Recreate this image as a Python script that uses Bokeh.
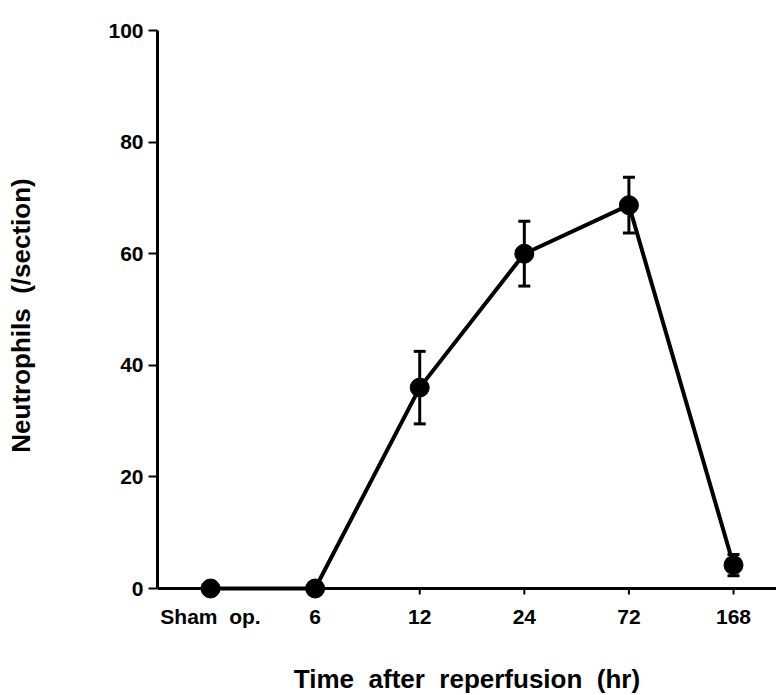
from bokeh.plotting import figure
from bokeh.models import Range1d, ColumnDataSource, FixedTicker, Span
from bokeh.embed import file_html
from bokeh.resources import INLINE

# ---- data ----
categories = ["Sham\u00a0 op.", "6", "12", "24", "72", "168"]
means = [0.0, 0.0, 36.0, 60.0, 68.7, 4.2]
sem = [0.0, 0.0, 6.5, 5.8, 5.0, 1.9]
y_ticks = [0, 20, 40, 60, 80, 100]

xpos = list(range(len(categories)))
lower = [m - e for m, e in zip(means, sem)]
upper = [m + e for m, e in zip(means, sem)]
src = ColumnDataSource(dict(x=xpos, y=means, lower=lower, upper=upper))

FONT = "Liberation Sans"
Y0, Y1 = -2.1505, 100.0
FRAME_H = 570
px_per_unit = FRAME_H / (Y1 - Y0)
tick_len = 6 / px_per_unit

p = figure(
    frame_width=619, frame_height=FRAME_H,
    min_border_left=157, min_border_right=0,
    min_border_top=30, min_border_bottom=95,
    x_range=Range1d(-0.507, 5.411), y_range=Range1d(Y0, Y1),
    output_backend="svg", toolbar_location=None, title=None,
)
p.outline_line_color = None
p.grid.visible = False
p.background_fill_color = "white"
p.border_fill_color = "white"

# x axis line at y = 0 and its small ticks
p.add_layout(Span(location=0, dimension="width", line_width=3, line_color="black"))
p.segment(x0=xpos, y0=[0] * len(xpos), x1=xpos, y1=[-tick_len] * len(xpos),
          line_width=2, line_color="black")

# line
p.line("x", "y", source=src, line_width=4, line_color="black")
# error bars
p.segment(x0="x", y0="lower", x1="x", y1="upper", source=src, line_width=3, line_color="black")
p.scatter("x", "upper", source=src, marker="dash", size=12, line_width=3, line_color="black")
p.scatter("x", "lower", source=src, marker="dash", size=12, line_width=3, line_color="black")
# markers
p.scatter("x", "y", source=src, marker="circle", size=19, fill_color="black", line_color="black")

# x axis (labels only; the line is drawn at y = 0)
xa = p.xaxis[0]
xa.ticker = FixedTicker(ticks=xpos)
xa.major_label_overrides = {i: c for i, c in zip(xpos, categories)}
xa.axis_line_color = None
xa.major_tick_line_color = None
xa.minor_tick_line_color = None
xa.major_tick_out = 0
xa.major_tick_in = 0
xa.major_label_standoff = 4
xa.major_label_text_font = FONT
xa.major_label_text_font_style = "bold"
xa.major_label_text_font_size = "21px"
xa.major_label_text_color = "black"
xa.axis_label = "Time\u00a0 after\u00a0 reperfusion\u00a0 (hr)"
xa.axis_label_text_font = FONT
xa.axis_label_text_font_style = "bold"
xa.axis_label_text_font_size = "26px"
xa.axis_label_text_color = "black"
xa.axis_label_standoff = 33

# y axis
ya = p.yaxis[0]
ya.bounds = (0, 100)
ya.ticker = FixedTicker(ticks=y_ticks)
ya.axis_line_width = 3
ya.major_tick_line_width = 2
ya.major_tick_out = 9
ya.major_tick_in = 0
ya.minor_tick_line_color = None
ya.major_label_standoff = 5
ya.major_label_text_font = FONT
ya.major_label_text_font_style = "bold"
ya.major_label_text_font_size = "21px"
ya.major_label_text_color = "black"
ya.axis_label = "Neutrophils\u00a0 (/section)"
ya.axis_label_text_font = FONT
ya.axis_label_text_font_style = "bold"
ya.axis_label_text_font_size = "26px"
ya.axis_label_text_color = "black"
ya.axis_label_standoff = 69

open("out.html", "w").write(file_html(p, INLINE))
